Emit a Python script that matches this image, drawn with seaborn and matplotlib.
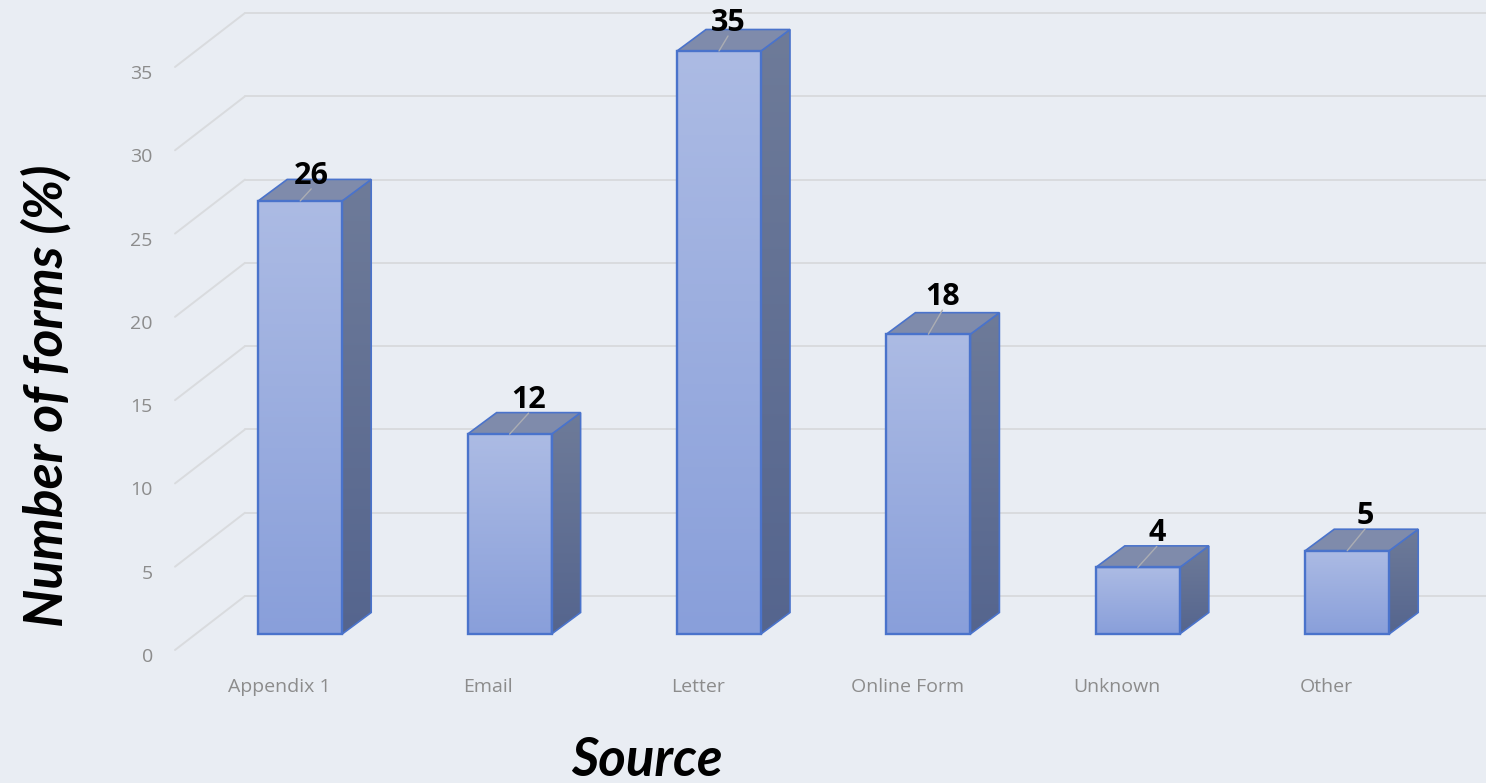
import numpy as np
import pandas as pd
import matplotlib
matplotlib.use("Agg")
import matplotlib.pyplot as plt
from matplotlib.colors import LinearSegmentedColormap
from matplotlib.patches import Polygon
from matplotlib.transforms import ScaledTranslation
import seaborn as sns

sources = ["Appendix 1", "Email", "Letter", "Online Form", "Unknown", "Other"]
forms = [26, 12, 35, 18, 4, 5]
y_ticks = [0, 5, 10, 15, 20, 25, 30, 35]
label_dx_px = [11, 19, 9, 14, 19, 18]
label_dy_px = [25, 34, 28, 37, 34, 35]

W, H = 1486, 783
BG = "#E9EDF3"
GRID = "#D9DBDE"
EDGE = "#4A73CB"
PX_X, PX_Y = 209.4, 583 / 35      # pixels per data unit

sns.set_theme(style="white")
plt.rcParams["font.family"] = ["Open Sans", "DejaVu Sans"]

fig = plt.figure(figsize=(W / 100, H / 100), dpi=100, facecolor=BG)
ax = fig.add_axes([175 / W, 133 / H, 1311 / W, 583 / H], facecolor="none")
xmin = -104 / PX_X
xmax = xmin + 1311 / PX_X

df = pd.DataFrame({"source": sources, "forms": forms})
sns.barplot(data=df, x="source", y="forms", width=84 / PX_X, ax=ax,
            fill=False, color=EDGE, linewidth=1.7, zorder=4, errorbar=None)

# bar plane and back wall sit behind the front plane of the axes
bar_dx, bar_dy = 21.2 / PX_X, 16 / PX_Y
depth_dx, depth_dy = 29 / PX_X, 21.5 / PX_Y
wall_dx, wall_dy = 70 / PX_X, 54 / PX_Y

# walls
for v in y_ticks:
    ax.plot([xmin, xmin + wall_dx], [v, v + wall_dy], color=GRID, lw=1.4, zorder=1, clip_on=False)
    ax.plot([xmin + wall_dx, xmax], [v + wall_dy, v + wall_dy], color=GRID, lw=1.4, zorder=1, clip_on=False)

front_cmap = LinearSegmentedColormap.from_list("front", ["#ACBBE4", "#899FDA"])
side_cmap = LinearSegmentedColormap.from_list("side", ["#6E7B99", "#55658E"])
ramp = np.linspace(0, 1, 256).reshape(-1, 1)

def gradient(poly, cmap, x0, x1, y0, y1, z):
    im = ax.imshow(ramp, cmap=cmap, extent=[x0, x1, y0, y1], aspect="auto",
                   zorder=z, interpolation="bilinear")
    im.set_clip_box(fig.bbox)
    im.set_clip_path(poly)

for i, patch in enumerate(ax.patches):
    patch.set_x(patch.get_x() + bar_dx)
    patch.set_y(patch.get_y() + bar_dy)
    patch.set_clip_on(False)
    x0, w = patch.get_x(), patch.get_width()
    x1 = x0 + w
    y0 = patch.get_y()
    y1 = y0 + patch.get_height()

    # front gradient
    front = Polygon([(x0, y0), (x1, y0), (x1, y1), (x0, y1)], closed=True,
                    fc="none", ec="none", zorder=3, clip_on=False)
    ax.add_patch(front)
    gradient(front, front_cmap, x0, x1, y0, y1, 3)

    # right side
    side = Polygon([(x1, y0), (x1 + depth_dx, y0 + depth_dy),
                    (x1 + depth_dx, y1 + depth_dy), (x1, y1)], closed=True,
                   fc="none", ec=EDGE, lw=1.2, zorder=3.5, clip_on=False)
    ax.add_patch(side)
    gradient(side, side_cmap, x1, x1 + depth_dx, y0, y1 + depth_dy, 3)

    # top
    ax.add_patch(Polygon([(x0, y1), (x1, y1), (x1 + depth_dx, y1 + depth_dy),
                          (x0 + depth_dx, y1 + depth_dy)], closed=True,
                         fc="#7F8BAB", ec=EDGE, lw=1.2, zorder=3.5, clip_on=False))

    # data label and leader line
    cx = x0 + w / 2
    lx = cx + label_dx_px[i] / PX_X
    ly = y1 + label_dy_px[i] / PX_Y
    ax.plot([cx, lx], [y1, ly - 13 / PX_Y], color="#ABADB3", lw=1, zorder=5, clip_on=False)
    ax.text(lx, ly, str(forms[i]), ha="center", va="center", fontsize=22,
            fontweight="bold", color="black", zorder=6, clip_on=False)

ax.set_xlim(xmin, xmax)
ax.set_ylim(0, 35)
ax.set_yticks(y_ticks)
ax.set_xticks(range(len(sources)))
ax.set_xticklabels(sources)
ax.tick_params(axis="both", length=0, labelsize=14, labelcolor="#8C8C8C")
ax.tick_params(axis="y", pad=16)
ax.tick_params(axis="x", pad=20)
shift = ScaledTranslation(0, -5 / 100, fig.dpi_scale_trans)
for lbl in ax.get_yticklabels():
    lbl.set_transform(lbl.get_transform() + shift)
sns.despine(ax=ax, left=True, bottom=True)
ax.grid(False)

ax.set_xlabel("Source", fontsize=38, fontstyle="italic", fontweight="bold",
              family="Lato", color="black")
ax.set_ylabel("Number of forms (%)", fontsize=38.5, fontstyle="italic", fontweight="bold",
              family="Lato", color="black")
ax.xaxis.set_label_coords((647 - 175) / 1311, (650 - 760) / 583)
ax.yaxis.set_label_coords((46 - 175) / 1311, (650 - 396) / 583)
ax.xaxis.label.set_va("center")
ax.yaxis.label.set_va("center")

fig.savefig("out.png", dpi=100, facecolor=BG)
